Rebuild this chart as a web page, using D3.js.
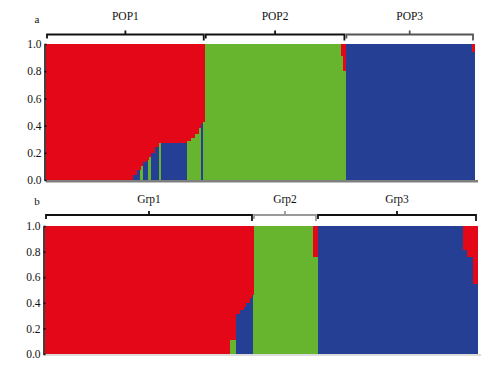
<!DOCTYPE html>
<html>
<head>
<meta charset="utf-8">
<script src="https://cdn.jsdelivr.net/npm/d3@7"></script>
<style>
	body { margin: 0; background: #fff; }
	svg text { font-family: "Liberation Serif", "Times New Roman", serif; fill: #111; }
</style>
</head>
<body>
<div id="chart"></div>
<script>
// Panel a: runs of individuals with the same membership (count, red, green, blue)
const groupsA = ["POP1", "POP2", "POP3"];
const groupSizesA = [79, 70, 64];
const runCountsA = [43, 2, 2, 1, 2, 1, 1, 2, 2, 1, 13, 2, 2, 2, 1, 1, 1,   68, 1, 1,   63, 1];
const redA   = [1, .96, .93, .90, .87, .85, .83, .80, .76, .73, .73, .71, .69, .66, .62, .59, .57,   0, .09, .20,   0, .06];
const greenA = [0, 0, 0, .10, 0, 0, .17, 0, 0, .27, 0, .29, .31, .34, .38, 0, .43,   1, .91, .80,   0, 0];
const blueA  = [0, .04, .07, 0, .13, .15, 0, .20, .24, 0, .27, 0, 0, 0, 0, .41, 0,   0, 0, 0,   1, .94];

// Panel b
const groupsB = ["Grp1", "Grp2", "Grp3"];
const groupSizesB = [104, 32, 80];
const runCountsB = [92, 3, 2, 2, 1, 2, 1, 1,   30, 2,   73, 2, 3, 2];
const redB   = [1, .89, .69, .66, .63, .60, .56, .54,   0, .24,   0, .19, .24, .45];
const greenB = [0, .11, 0, 0, 0, 0, 0, 0,   1, .76,   0, 0, 0, 0];
const blueB  = [0, 0, .31, .34, .37, .40, .44, .46,   0, 0,   1, .81, .76, .55];

const yTicks = [0, 0.2, 0.4, 0.6, 0.8, 1.0];
const colors = { blue: "#253F94", green: "#67B52F", red: "#E30718" };
const keys = ["blue", "green", "red"];

const svg = d3.select("#chart").append("svg").attr("width", 501).attr("height", 375);

function buildRuns(counts, red, green, blue) {
	let start = 0;
	return counts.map((n, i) => {
		const r = { start: start, end: start + n, red: red[i], green: green[i], blue: blue[i] };
		start += n;
		return r;
	});
}

function drawPanel(opt) {
	const runs = buildRuns(opt.counts, opt.red, opt.green, opt.blue);
	const total = d3.sum(opt.counts);
	const x = d3.scaleLinear([0, total], [opt.left, opt.right]);
	const y = d3.scaleLinear([0, 1], [opt.bottom, opt.top]);
	const g = svg.append("g");

	// baseline strip
	g.append("rect")
		.attr("x", opt.left).attr("y", opt.bottom)
		.attr("width", opt.right - opt.left + 4).attr("height", opt.baseH)
		.attr("fill", opt.baseColor);

	const stacked = d3.stack().keys(keys)(runs);
	g.selectAll("g.layer").data(stacked).join("g")
		.attr("fill", (d) => colors[d.key])
		.selectAll("rect").data((d) => d.filter((s) => s[1] - s[0] > 0)).join("rect")
		.attr("shape-rendering", "crispEdges")
		.attr("x", (d) => x(d.data.start))
		.attr("width", (d) => x(d.data.end) - x(d.data.start) + 0.5)
		.attr("y", (d) => y(d[1]))
		.attr("height", (d) => y(d[0]) - y(d[1]));

	// axis
	const axis = g.append("g")
		.attr("transform", `translate(${opt.left - 1.5},0)`)
		.call(d3.axisLeft(y).tickValues(yTicks).tickFormat(d3.format(".1f"))
			.tickSizeInner(-2).tickSizeOuter(0).tickPadding(3));
	axis.selectAll("path, line").attr("stroke", "#111").attr("stroke-width", 1.6);
	axis.selectAll("text").attr("font-size", 11.5).attr("font-family", "Liberation Serif");

	// brackets and group labels
	let s = 0;
	opt.groups.forEach((name, i) => {
		const x0 = x(s) + 1, x1 = x(s + opt.sizes[i]) - 1, xm = (x0 + x1) / 2;
		s += opt.sizes[i];
		const yb = opt.bracketY;
		g.append("path")
			.attr("d", `M${x0},${yb + 4}V${yb}H${x1}V${yb + 6}M${xm},${yb}v-4`)
			.attr("fill", "none")
			.attr("stroke", opt.bracketColors[i]).attr("stroke-width", 1.8);
		g.append("text").attr("x", xm).attr("y", opt.labelY)
			.attr("text-anchor", "middle").attr("font-size", 11.5).text(name);
	});
	g.append("text").attr("x", 37).attr("y", opt.letterY)
		.attr("text-anchor", "middle").attr("font-size", 11).text(opt.letter);
}

drawPanel({
	counts: runCountsA, red: redA, green: greenA, blue: blueA,
	groups: groupsA, sizes: groupSizesA,
	left: 46, right: 474, top: 44, bottom: 180,
	baseH: 2.5, baseColor: "#7f7f7f",
	bracketY: 34.5, labelY: 20, letter: "a", letterY: 23,
	bracketColors: ["#111", "#111", "#555"]
});

drawPanel({
	counts: runCountsB, red: redB, green: greenB, blue: blueB,
	groups: groupsB, sizes: groupSizesB,
	left: 45, right: 477, top: 226, bottom: 354,
	baseH: 2, baseColor: "#dcdcdc",
	bracketY: 215, labelY: 203, letter: "b", letterY: 205,
	bracketColors: ["#111", "#999", "#111"]
});
</script>
</body>
</html>
